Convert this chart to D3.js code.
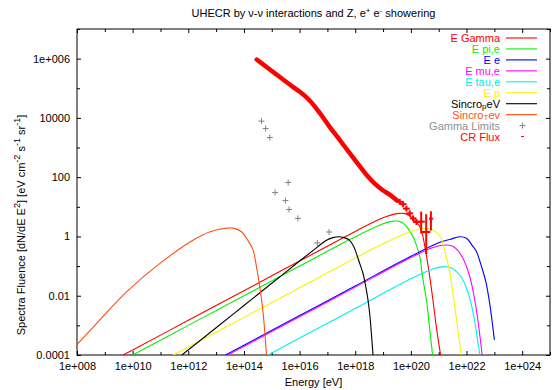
<!DOCTYPE html>
<html><head><meta charset="utf-8">
<script src="https://cdn.jsdelivr.net/npm/d3@7"></script>
<style>
body{margin:0;background:#fff}
svg{display:block}
text{font-family:"Liberation Sans",Arial,Helvetica,sans-serif;font-size:11px}
</style></head>
<body><svg id="c" width="552" height="390"></svg>
<script>
// ---- data (log10 E [eV], log10 fluence) ----
const xTickExp = [8,10,12,14,16,18,20,22,24];
const xTickLabels = ["1e+008","1e+010","1e+012","1e+014","1e+016","1e+018","1e+020","1e+022","1e+024"];
const xMinorExp = [9,11,13,15,17,19,21,23,25];
const yTickExp = [-4,-2,0,2,4,6];
const yTickLabels = ["0.0001","0.01","1","100","10000","1e+006"];
const yMinorExp = [-3,-1,1,3,5,7];

const eGamma = [[9.65,-4],[10,-3.83],[12,-2.83],[14,-1.83],[16,-0.83],[18,0.17],[19,0.63],[19.5,0.77],[19.8,0.77],[20.06,0.62],[20.3,0.36],[20.4,0.13],[20.5,-0.33],[20.6,-0.88],[20.7,-1.5],[20.8,-2.2],[20.9,-2.95],[21.0,-3.6],[21.07,-4]];
const ePiE = [[10,-4],[12,-3],[14,-2],[16,-1],[18,-0.01],[19,0.43],[19.3,0.51],[19.5,0.52],[19.7,0.46],[19.84,0.34],[20.0,0.12],[20.14,-0.14],[20.32,-0.69],[20.42,-1.36],[20.56,-2.15],[20.68,-3.16],[20.78,-4]];
const eE = [[13.34,-4],[14,-3.67],[16,-2.67],[18,-1.67],[20,-0.67],[21,-0.21],[21.4,-0.1],[21.75,-0.01],[22.0,-0.06],[22.2,-0.3],[22.35,-0.5],[22.55,-1.05],[22.7,-1.55],[22.83,-2.25],[22.9,-2.72],[23.0,-3.49]];
const eMuE = [[13.42,-4],[14,-3.71],[16,-2.71],[18,-1.71],[20,-0.71],[20.8,-0.37],[21.27,-0.29],[21.5,-0.33],[21.63,-0.42],[21.8,-0.62],[22.0,-1.02],[22.15,-1.47],[22.3,-2.17],[22.4,-2.77],[22.5,-3.5],[22.56,-4]];
const eTauE = [[14.87,-4],[16,-3.43],[18,-2.43],[20,-1.43],[20.8,-1.1],[21.27,-1.02],[21.5,-1.08],[21.63,-1.18],[21.8,-1.35],[22.0,-1.75],[22.15,-2.2],[22.3,-2.9],[22.4,-3.5],[22.48,-4]];
const eP = [[11.46,-4],[12,-3.73],[14,-2.73],[16,-1.73],[18,-0.73],[19,-0.25],[19.5,-0.03],[20,0.17],[20.4,0.27],[20.7,0.25],[21.03,0.04],[21.21,-0.46],[21.39,-1.17],[21.56,-2.25],[21.68,-3.09],[21.81,-4]];
const sincroP = [[11.77,-4],[13,-3.08],[14,-2.33],[15,-1.58],[16,-0.83],[16.5,-0.46],[16.8,-0.24],[17.0,-0.11],[17.2,-0.04],[17.4,-0.01],[17.6,-0.04],[17.8,-0.13],[17.95,-0.35],[18.04,-0.57],[18.15,-0.88],[18.28,-1.25],[18.38,-1.7],[18.46,-2.15],[18.53,-2.7],[18.58,-3.27],[18.64,-4]];
const sincroT = [[8,-3.65],[8.59,-3.05],[9.78,-1.87],[10.98,-0.91],[12.18,-0.12],[12.78,0.16],[13.38,0.28],[13.61,0.28],[13.91,0.16],[14.21,-0.24],[14.33,-0.46],[14.45,-1.02],[14.57,-1.7],[14.69,-2.59],[14.81,-4]];
const gammaLimits = [[14.63,3.89],[14.78,3.64],[14.93,3.34],[15.59,1.82],[15.12,1.48],[15.49,1.21],[15.62,0.91],[15.94,0.61],[17.06,0.15],[16.64,-0.22]];
// CR flux: dense points (drawn as a thick band) and the points with error bars
const crFlux = [[14.46,5.97],[14.81,5.72],[15.29,5.38],[15.77,5.04],[16.01,4.88],[16.37,4.58],[16.73,4.16],[17.08,3.7],[17.44,3.26],[17.8,2.81],[18.16,2.37],[18.45,2.03],[18.7,1.78],[18.99,1.56],[19.24,1.41],[19.49,1.22]];
// [logE, logY, logYlo, logYhi, logElo, logEhi]
const crErr = [[19.6,1.17,1.07,1.27,19.48,19.72],[19.72,1.09,0.99,1.19,19.6,19.84],[19.84,0.94,0.84,1.04,19.72,19.96],[19.96,0.78,0.68,0.88,19.84,20.08],[20.08,0.61,0.51,0.71,19.96,20.2],[20.2,0.49,0.39,0.59,20.08,20.32],[20.37,0.5,0.1,0.84,20.23,20.5],[20.55,0.15,-0.6,0.75,20.4,20.7],[20.72,0.6,0.2,0.85,20.65,20.8]];

const series = [
  {name:"E Gamma", data:eGamma, color:"#ff0000"},
  {name:"E pi,e", data:ePiE, color:"#00f000"},
  {name:"E e", data:eE, color:"#0000ff"},
  {name:"E mu,e", data:eMuE, color:"#ff00ff"},
  {name:"E tau,e", data:eTauE, color:"#00f0f0"},
  {name:"E p", data:eP, color:"#f4f400"},
  {name:"Sincro|p|eV", data:sincroP, color:"#000000"},
  {name:"Sincro|T|ev", data:sincroT, color:"#ff4f10"}
];

// ---- drawing ----
const svg = d3.select("#c");
const L=77, R=550, T=29, B=355;
const x = d3.scaleLog().domain([1e8,1e25]).range([L,R]);
const y = d3.scaleLog().domain([1e-4,1e7]).range([B,T]);
const px = v => x(Math.pow(10,v));
const py = v => y(Math.pow(10,v));

svg.append("defs").append("clipPath").attr("id","clip")
  .append("rect").attr("x",L).attr("y",T).attr("width",R-L).attr("height",B-T);

// title
const title = svg.append("text").attr("x",(L+R)/2).attr("y",17).attr("text-anchor","middle");
title.append("tspan").text("UHECR by \u03bd-\u03bd interactions and Z, e");
title.append("tspan").attr("dy",-4).attr("font-size","8px").text("+");
title.append("tspan").attr("dy",4).text(" e");
title.append("tspan").attr("dy",-4).attr("font-size","8px").text("-");
title.append("tspan").attr("dy",4).text(" showering");

// axes
const fmtX = d => xTickLabels[xTickExp.indexOf(Math.round(Math.log10(d)))];
const fmtY = d => yTickLabels[yTickExp.indexOf(Math.round(Math.log10(d)))];
const tv = a => a.map(e => Math.pow(10,e));

function style(g){ g.select(".domain").remove(); g.selectAll("text").attr("font-size","11px").attr("font-family",null).attr("fill","#000"); g.selectAll("line").attr("stroke","#000"); }

svg.append("g").attr("transform",`translate(0,${B})`)
  .call(d3.axisBottom(x).tickValues(tv(xTickExp)).tickFormat(fmtX).tickSize(-4).tickPadding(7)).call(style);
svg.append("g").attr("transform",`translate(0,${B})`)
  .call(d3.axisBottom(x).tickValues(tv(xMinorExp)).tickFormat("").tickSize(-3)).call(style);
svg.append("g").attr("transform",`translate(0,${T})`)
  .call(d3.axisTop(x).tickValues(tv(xTickExp)).tickFormat("").tickSize(-4)).call(style);
svg.append("g").attr("transform",`translate(0,${T})`)
  .call(d3.axisTop(x).tickValues(tv(xMinorExp)).tickFormat("").tickSize(-3)).call(style);
svg.append("g").attr("transform",`translate(${L},0)`)
  .call(d3.axisLeft(y).tickValues(tv(yTickExp)).tickFormat(fmtY).tickSize(-4).tickPadding(7)).call(style);
svg.append("g").attr("transform",`translate(${L},0)`)
  .call(d3.axisLeft(y).tickValues(tv(yMinorExp)).tickFormat("").tickSize(-3)).call(style);
svg.append("g").attr("transform",`translate(${R},0)`)
  .call(d3.axisRight(y).tickValues(tv(yTickExp)).tickFormat("").tickSize(-4)).call(style);
svg.append("g").attr("transform",`translate(${R},0)`)
  .call(d3.axisRight(y).tickValues(tv(yMinorExp)).tickFormat("").tickSize(-3)).call(style);

svg.append("rect").attr("x",L).attr("y",T).attr("width",R-L).attr("height",B-T)
  .attr("fill","none").attr("stroke","#000").attr("stroke-width",1);

// axis labels
svg.append("text").attr("x",(L+R)/2).attr("y",386).attr("text-anchor","middle").text("Energy [eV]");
const yl = svg.append("text").attr("transform","translate(25,225) rotate(-90)").attr("text-anchor","middle").attr("font-size","13px");
yl.append("tspan").text("Spectra Fluence [dN/dE E");
yl.append("tspan").attr("dy",-5).attr("font-size","9px").text("2");
yl.append("tspan").attr("dy",5).text("] [eV cm");
yl.append("tspan").attr("dy",-5).attr("font-size","9px").text("-2");
yl.append("tspan").attr("dy",5).text(" s");
yl.append("tspan").attr("dy",-5).attr("font-size","9px").text("-1");
yl.append("tspan").attr("dy",5).text(" sr");
yl.append("tspan").attr("dy",-5).attr("font-size","9px").text("-1");
yl.append("tspan").attr("dy",5).text("]");

// curves
const plot = svg.append("g").attr("clip-path","url(#clip)");
const line = d3.line().x(d=>px(d[0])).y(d=>py(d[1])).curve(d3.curveCatmullRom.alpha(0.5));
series.forEach(s=>{
  plot.append("path").attr("d",line(s.data)).attr("fill","none")
    .attr("stroke",s.color).attr("stroke-width",1.1);
});

// CR flux band
plot.append("path").attr("d",line(crFlux)).attr("fill","none").attr("stroke","#ff0000")
  .attr("stroke-width",4.5).attr("stroke-linecap","round");
crErr.forEach(d=>{
  plot.append("line").attr("x1",px(d[0])).attr("x2",px(d[0])).attr("y1",py(d[2])).attr("y2",py(d[3]))
    .attr("stroke","#ff0000").attr("stroke-width",2);
  plot.append("line").attr("x1",px(d[4])).attr("x2",px(d[5])).attr("y1",py(d[1])).attr("y2",py(d[1]))
    .attr("stroke","#ff0000").attr("stroke-width",2);
});

// gamma limits
gammaLimits.forEach(d=>{
  const cx=px(d[0]), cy=py(d[1]);
  plot.append("path").attr("d",`M${cx-3},${cy}H${cx+3}M${cx},${cy-3}V${cy+3}`)
    .attr("stroke","#808080").attr("stroke-width",1);
});

// legend
const lg = svg.append("g");
const rowY = i => 42 + i*10.95;
series.forEach((s,i)=>{
  const t = lg.append("text").attr("x",500).attr("y",rowY(i)).attr("text-anchor","end").attr("fill",s.color);
  const parts = s.name.split("|");
  t.append("tspan").text(parts[0]);
  if(parts.length>1){
    t.append("tspan").attr("dy",1).attr("font-size","8px").text(parts[1]);
    t.append("tspan").attr("dy",-1).text(parts[2]);
  }
  lg.append("line").attr("x1",506).attr("x2",537).attr("y1",rowY(i)-4).attr("y2",rowY(i)-4)
    .attr("stroke",s.color).attr("stroke-width",1.1);
});
lg.append("text").attr("x",500).attr("y",rowY(8)+0.5).attr("text-anchor","end").attr("fill","#909090").text("Gamma Limits");
lg.append("path").attr("d",`M${519.5},${rowY(8)-4}H${525.5}M${522.5},${rowY(8)-7}V${rowY(8)-1}`).attr("stroke","#808080");
lg.append("text").attr("x",500).attr("y",rowY(9)).attr("text-anchor","end").attr("fill","#ff0000").text("CR Flux");
lg.append("line").attr("x1",521).attr("x2",524).attr("y1",rowY(9)-4).attr("y2",rowY(9)-4).attr("stroke","#ff0000");
</script></body></html>
